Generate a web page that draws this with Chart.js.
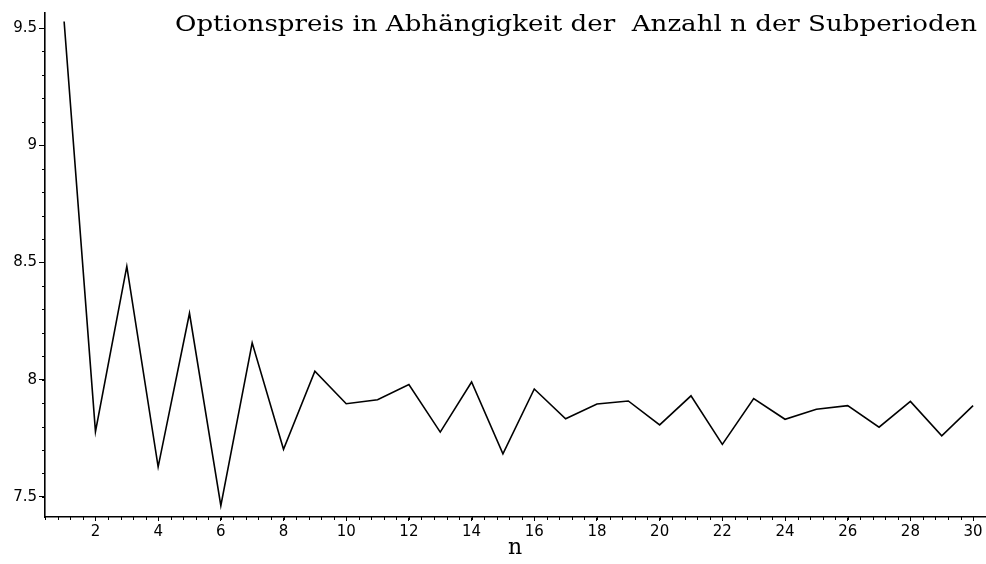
<!DOCTYPE html>
<html lang="de">
<head>
    <meta charset="UTF-8">
    <title>Optionspreis in Abhängigkeit der Anzahl n der Subperioden</title>
    <script src="https://cdn.jsdelivr.net/npm/chart.js"></script>
    <style>
        html, body { margin: 0; padding: 0; background: #fff; }
        canvas { display: block; }
    </style>
</head>
<body>
    <canvas id="priceChart" width="986" height="564"></canvas>
    <script>
        // number of subperiods n
        const subperiods = [1, 2, 3, 4, 5, 6, 7, 8, 9, 10, 11, 12, 13, 14, 15,
                            16, 17, 18, 19, 20, 21, 22, 23, 24, 25, 26, 27, 28, 29, 30];
        // option price
        const optionPrices = [9.528, 7.778, 8.483, 7.628, 8.283, 7.462, 8.157, 7.703, 8.036, 7.897,
                              7.914, 7.979, 7.776, 7.990, 7.683, 7.960, 7.833, 7.896, 7.909, 7.807,
                              7.931, 7.724, 7.919, 7.831, 7.874, 7.889, 7.797, 7.907, 7.760, 7.889];
        const xTickValues = [2, 4, 6, 8, 10, 12, 14, 16, 18, 20, 22, 24, 26, 28, 30];
        const yTickValues = [7.5, 8, 8.5, 9, 9.5];
        const titleText = 'Optionspreis in Abhängigkeit der  Anzahl n der Subperioden';
        const xTitle = 'n';

        const tickFont = { family: '"DejaVu Sans", sans-serif', size: 15 };

        // small ticks between the labelled ones, like the original plot
        const minorTicks = {
            id: 'minorTicks',
            afterDraw(chart) {
                const { ctx, chartArea, scales } = chart;
                ctx.save();
                ctx.strokeStyle = '#000';
                ctx.lineWidth = 1;
                ctx.beginPath();
                for (let v = 7.5; v <= scales.y.max; v += 0.1) {
                    const py = Math.round(scales.y.getPixelForValue(v)) + 0.5;
                    ctx.moveTo(chartArea.left - 3, py);
                    ctx.lineTo(chartArea.left, py);
                }
                for (let v = 0.4; v <= scales.x.max; v += 0.4) {
                    const px = Math.round(scales.x.getPixelForValue(v)) + 0.5;
                    ctx.moveTo(px, chartArea.bottom);
                    ctx.lineTo(px, chartArea.bottom + 3);
                }
                ctx.stroke();
                ctx.restore();
            }
        };

        // title sits inside the plot, top right; stretched a bit to the original's width
        const cornerTitle = {
            id: 'cornerTitle',
            afterDraw(chart) {
                const ctx = chart.ctx;
                ctx.save();
                ctx.font = '23px "DejaVu Serif", "Liberation Serif", serif';
                ctx.fillStyle = '#000';
                ctx.textAlign = 'left';
                ctx.textBaseline = 'alphabetic';
                const w = ctx.measureText(titleText).width;
                const left = 175, right = 977;
                ctx.translate(left, 31);
                ctx.scale((right - left) / w, 1);
                ctx.fillText(titleText, 0, 0);
                ctx.restore();
            }
        };

        const ctx = document.getElementById('priceChart').getContext('2d');
        new Chart(ctx, {
            type: 'line',
            data: {
                datasets: [{
                    data: subperiods.map((n, i) => ({ x: n, y: optionPrices[i] })),
                    borderColor: '#000',
                    borderWidth: 1.6,
                    pointRadius: 0,
                    tension: 0,
                    fill: false
                }]
            },
            options: {
                responsive: false,
                animation: false,
                layout: { padding: { top: 13, right: 1, left: 0, bottom: 0 } },
                plugins: {
                    legend: { display: false },
                    tooltip: { enabled: false }
                },
                scales: {
                    x: {
                        type: 'linear',
                        min: 0.39,
                        max: 30.38,
                        afterFit: s => { s.height = 47; },
                        afterBuildTicks: s => { s.ticks = xTickValues.map(v => ({ value: v })); },
                        border: { display: true, color: '#000', width: 1.6 },
                        grid: { drawOnChartArea: false, color: '#000', tickLength: 4, lineWidth: 1 },
                        ticks: { color: '#000', font: tickFont, padding: 2, maxRotation: 0, autoSkip: false },
                        title: {
                            display: true,
                            text: xTitle,
                            color: '#000',
                            font: { family: '"DejaVu Serif", "Liberation Serif", serif', size: 22 },
                            padding: { top: 0, bottom: 3 }
                        }
                    },
                    y: {
                        type: 'linear',
                        min: 7.414,
                        max: 9.564,
                        afterFit: s => { s.width = 45; },
                        afterBuildTicks: s => { s.ticks = yTickValues.map(v => ({ value: v })); },
                        border: { display: true, color: '#000', width: 1.6 },
                        grid: { drawOnChartArea: false, color: '#000', tickLength: 6, lineWidth: 1 },
                        ticks: {
                            color: '#000',
                            font: tickFont,
                            padding: 2,
                            callback: v => String(v)
                        }
                    }
                }
            },
            plugins: [minorTicks, cornerTitle]
        });
    </script>
</body>
</html>
